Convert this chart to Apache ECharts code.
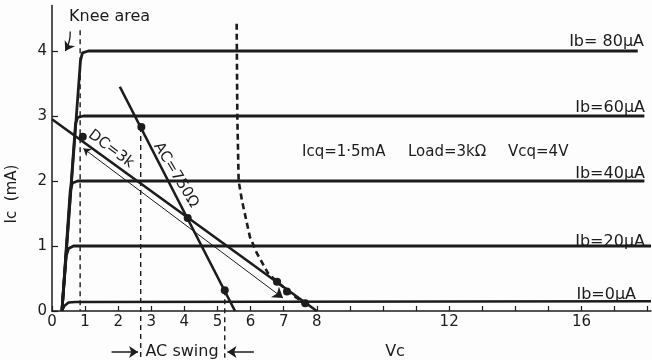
<!DOCTYPE html>
<html>
<head>
<meta charset="utf-8">
<script src="https://cdn.jsdelivr.net/npm/echarts@6/dist/echarts.min.js"></script>
<style>
  html, body { margin: 0; padding: 0; background: #fdfdfd; }
  #chart { width: 652px; height: 360px; }
</style>
</head>
<body>
<div id="chart"></div>
<script>
// axis labels
const xLabels = [0, 1, 2, 3, 4, 5, 6, 7, 8, 12, 16];
const yLabels = [0, 1, 2, 3, 4];

// collector curves, [Vc, Ic]
const ib0  = [[0.3, 0], [0.38, 0.08], [0.5, 0.13], [0.7, 0.14], [18.1, 0.15]];
const ib20 = [[0.3, 0], [0.43, 0.85], [0.5, 0.96], [0.65, 1.0], [18.1, 1.0]];
const ib40 = [[0.3, 0], [0.55, 1.85], [0.62, 1.97], [0.78, 2.0], [17.9, 2.0]];
const ib60 = [[0.3, 0], [0.71, 2.88], [0.78, 2.98], [0.95, 3.0], [17.9, 3.0]];
const ib80 = [[0.3, 0], [0.86, 3.85], [0.92, 3.97], [1.1, 4.0], [17.7, 4.0]];

// load lines
const dcLoad = [[0, 2.95], [8, 0]];
const acLoad = [[2.05, 3.45], [5.53, 0]];
const dcArrow = [[0.95, 2.5], [6.98, 0.2]];

// max dissipation curve
const dissipation = [[5.58, 4.42], [5.6, 3.0], [5.64, 2.0], [5.74, 1.7], [5.98, 1.14], [6.19, 0.89],
  [6.53, 0.58], [6.8, 0.45], [7.1, 0.32], [7.4, 0.2], [7.7, 0.1]];

// dashed markers
const kneeLine = [[0.85, 4.32], [0.85, 0]];
const swingLo = [[2.68, 2.83], [2.68, -0.72]];
const swingHi = [[5.22, 0.32], [5.22, -0.72]];

// dots
const dots = [[0.93, 2.68], [2.7, 2.83], [4.1, 1.43], [5.22, 0.32], [6.8, 0.45], [7.1, 0.3], [7.65, 0.12]];

// small arrows
const kneeArrow = [[0.55, 4.3], [0.4, 4.0]];
const swingArrowL = [[1.8, -0.63], [2.6, -0.63]];
const swingArrowR = [[6.1, -0.63], [5.3, -0.63]];

const ink = '#1c1c1c';
const font = 'DejaVu Sans, sans-serif';

let chart = echarts.init(document.getElementById('chart'));

function curve(data, w) {
    return {
        type: 'line', data: data, symbol: 'none', clip: false,
        lineStyle: { color: ink, width: w }
    };
}
function dashed(data, w, dash) {
    return {
        type: 'line', data: data, symbol: 'none', clip: false,
        lineStyle: { color: ink, width: w, type: dash }
    };
}
function arrow(data, ends, w, size, curv) {
    return {
        type: 'lines', coordinateSystem: 'cartesian2d', clip: false,
        symbol: ends, symbolSize: size,
        lineStyle: { color: ink, width: w, opacity: 1, curveness: curv || 0 },
        data: [{ coords: data }]
    };
}
function text(t, x, y, opts) {
    return Object.assign({
        type: 'text', x: x, y: y,
        style: Object.assign({ text: t, fill: ink, font: '15px ' + font, verticalAlign: 'middle' }, (opts && opts.style) || {})
    }, opts && opts.rotation !== undefined ? { rotation: opts.rotation } : {});
}

chart.setOption({
    backgroundColor: '#fdfdfd',
    animation: false,
    grid: { left: 52, right: 1, top: 5.5, bottom: 49 },
    xAxis: {
        type: 'value', min: 0, max: 18.1, interval: 1,
        axisLine: { lineStyle: { color: ink, width: 1.5 } },
        axisTick: { inside: true, length: 5, lineStyle: { color: ink, width: 1.2 } },
        axisLabel: {
            color: ink, fontSize: 15, fontFamily: font, margin: 4, showMaxLabel: false,
            formatter: v => xLabels.indexOf(v) >= 0 ? String(v) : ''
        },
        splitLine: { show: false }
    },
    yAxis: {
        type: 'value', min: 0, max: 4.7, interval: 1,
        axisLine: { show: true, lineStyle: { color: ink, width: 1.5 } },
        axisTick: { show: true, inside: true, length: 6, lineStyle: { color: ink, width: 1.2 } },
        axisLabel: {
            color: ink, fontSize: 15, fontFamily: font, margin: 5, showMaxLabel: false,
            formatter: v => yLabels.indexOf(v) >= 0 ? String(v) : ''
        },
        splitLine: { show: false }
    },
    series: [
        curve(ib0, 2.5), curve(ib20, 2.8), curve(ib40, 2.8), curve(ib60, 2.8), curve(ib80, 2.8),
        curve(dcLoad, 2.6), curve(acLoad, 2.6),
        dashed(dissipation, 2.6, [6, 4]),
        dashed(kneeLine, 1.4, [5, 4]),
        dashed(swingLo, 1.4, [5, 4]),
        dashed(swingHi, 1.4, [5, 4]),
        arrow(dcArrow, ['arrow', 'arrow'], 1, [7, 10]),
        arrow(kneeArrow, ['none', 'arrow'], 1.3, [6, 9], 0.15),
        arrow(swingArrowL, ['none', 'arrow'], 1.5, [7, 9]),
        arrow(swingArrowR, ['none', 'arrow'], 1.5, [7, 9]),
        {
            type: 'scatter', data: dots, symbol: 'circle', symbolSize: 8,
            itemStyle: { color: ink, opacity: 1 }, z: 5
        }
    ],
    graphic: [
        text('Knee area', 69, 17, { style: { font: '16px ' + font } }),
        text('Ib= 80μA', 644, 42, { style: { align: 'right', font: '16px ' + font } }),
        text('Ib=60μA', 645, 108, { style: { align: 'right', font: '16px ' + font } }),
        text('Ib=40μA', 645, 174, { style: { align: 'right', font: '16px ' + font } }),
        text('Ib=20μA', 645, 242, { style: { align: 'right', font: '16px ' + font } }),
        text('Ib=0μA', 636, 295, { style: { align: 'right', font: '16px ' + font } }),
        text('Icq=1·5mA', 302, 152),
        text('Load=3kΩ', 408, 152),
        text('Vcq=4V', 508, 152),
        text('DC=3k', 111, 149, { style: { align: 'center' }, rotation: -37 * Math.PI / 180 }),
        text('AC=750Ω', 176, 175, { style: { align: 'center' }, rotation: -59 * Math.PI / 180 }),
        text('AC swing', 182, 352, { style: { align: 'center', font: '16px ' + font } }),
        text('Vc', 395, 352, { style: { align: 'center', font: '16px ' + font } }),
        text('Ic  (mA)', 12, 194, { style: { align: 'center' }, rotation: Math.PI / 2 })
    ]
});
</script>
</body>
</html>
